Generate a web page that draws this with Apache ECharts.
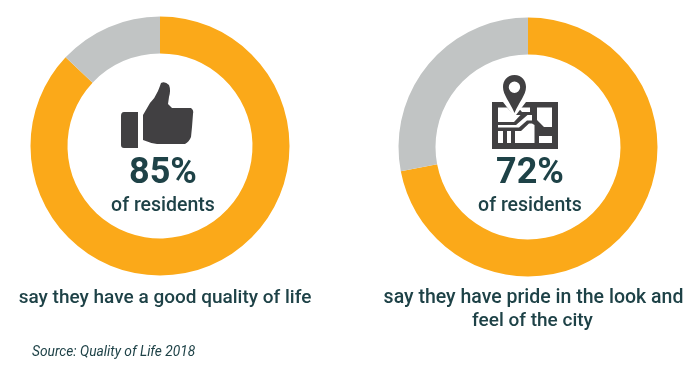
<!DOCTYPE html>
<html><head><meta charset="utf-8">
<style>html,body{margin:0;padding:0;background:#fff}#c{width:700px;height:378px}</style>
<script src="https://cdn.jsdelivr.net/npm/echarts@6/dist/echarts.min.js"></script></head>
<body><div id="c"></div>
<script>
const segmentNames = ['Yes', 'Other'];
const leftValues = [87, 13];
const rightValues = [72, 28];
const leftPercent = '85%';
const rightPercent = '72%';
const subLabel = 'of residents';
const leftCaption = 'say they have a good quality of life';
const rightCaption = ['say they have pride in the look and', 'feel of the city'];
const sourceText = 'Source: Quality of Life 2018';
const ORANGE = '#fba919', GREY = '#c1c4c4', DARK = '#1e4247', ICON = '#414042';
const FONT = 'Roboto,"Noto Sans",sans-serif';
const toData = v => v.map((value, i) => ({name: segmentNames[i], value, itemStyle: {color: i ? GREY : ORANGE}}));
const pie = (center, values) => ({type: 'pie', center, radius: [92.5, 129.5], startAngle: 90, clockwise: true,
  label: {show: false}, labelLine: {show: false}, silent: true, animation: false, data: toData(values)});
const txt = (x, y, text, size, weight, extra) => ({type: 'text', x, y, style: Object.assign({text, font: `${weight} ${size}px ${FONT}`, fill: DARK, align: 'center', verticalAlign: 'middle'}, extra || {})});
const thumb = 'M121 116 Q121 112 124 112 L138 112 L138 148 L124 148 Q121 148 121 145 Z M143 115 L150 103 Q155 98 158 91 Q160 86 161 83 Q165 81 169 85 Q171 90 169 97 L168 104 L172 108 L191 108 Q194 110 193 114 L192 127 L191 137 Q189 142 185 144 L157 144 Q150 143 143 140 Z';
const pinPath = 'M514.5 75 C507 75 503 81 503 87 C503 95 510 102 514.5 113 C519 102 526 95 526 87 C526 81 522 75 514.5 75 Z M514.5 81.5 A5.7 5.7 0 1 1 514.4 81.5 Z';
const mapPath = 'M492 102 L503 102 L514.5 117 L526 102 L558 102 L558 149 L492 149 Z';
const mapCells = 'M498 107.5 L507 107.5 L514 115 L520.5 115 L514 122 L498 122 Z'
  + ' M518 107.5 L530 107.5 L530 112 L522 112 Z'
  + ' M537 107.5 L552 107.5 L552 127 L544 127 L537 120 Z'
  + ' M498 125 L516 125 L527.5 115 L532 115 L532 120.5 L527 120.5 L519 127.5 L498 127.5 Z'
  + ' M498 131 L503 131 L503 143 L498 143 Z'
  + ' M507 131 L511 131 L511 143 L507 143 Z'
  + ' M515 131 L521 131 L529 123.5 L532 123.5 L534.5 125 L534.5 143 L515 143 Z'
  + ' M539 136 L552 136 L552 143 L539 143 Z';
echarts.graphic.registerShape('thumbIcon', echarts.graphic.extendPath(thumb));
echarts.graphic.registerShape('mapIcon', echarts.graphic.extendPath(mapPath));
echarts.graphic.registerShape('mapCells', echarts.graphic.extendPath(mapCells));
echarts.graphic.registerShape('pinIcon', echarts.graphic.extendPath(pinPath));
const option = {
  animation: false,
  series: [pie([160, 146], leftValues), pie([528, 147], rightValues)],
  graphic: {elements: [
    {type: 'thumbIcon', style: {fill: ICON}},
    {type: 'mapIcon', style: {fill: ICON}},
    {type: 'mapCells', style: {fill: '#fff'}},
    {type: 'pinIcon', style: {fill: ICON}},
    txt(163, 174, leftPercent, 36, 700),
    txt(163, 206, subLabel, 19.5, 500),
    txt(530, 174, rightPercent, 36, 700),
    txt(530, 206, subLabel, 19.5, 500),
    txt(165, 298, leftCaption, 19, 500),
    txt(533.5, 298, rightCaption[0], 19.5, 500),
    txt(532.5, 321, rightCaption[1], 19, 500),
    txt(32, 353, sourceText, 13.75, 'italic 400', {align: 'left'})
  ]}
};
echarts.init(document.getElementById('c'), null, {renderer: 'canvas'}).setOption(option);
</script></body></html>
